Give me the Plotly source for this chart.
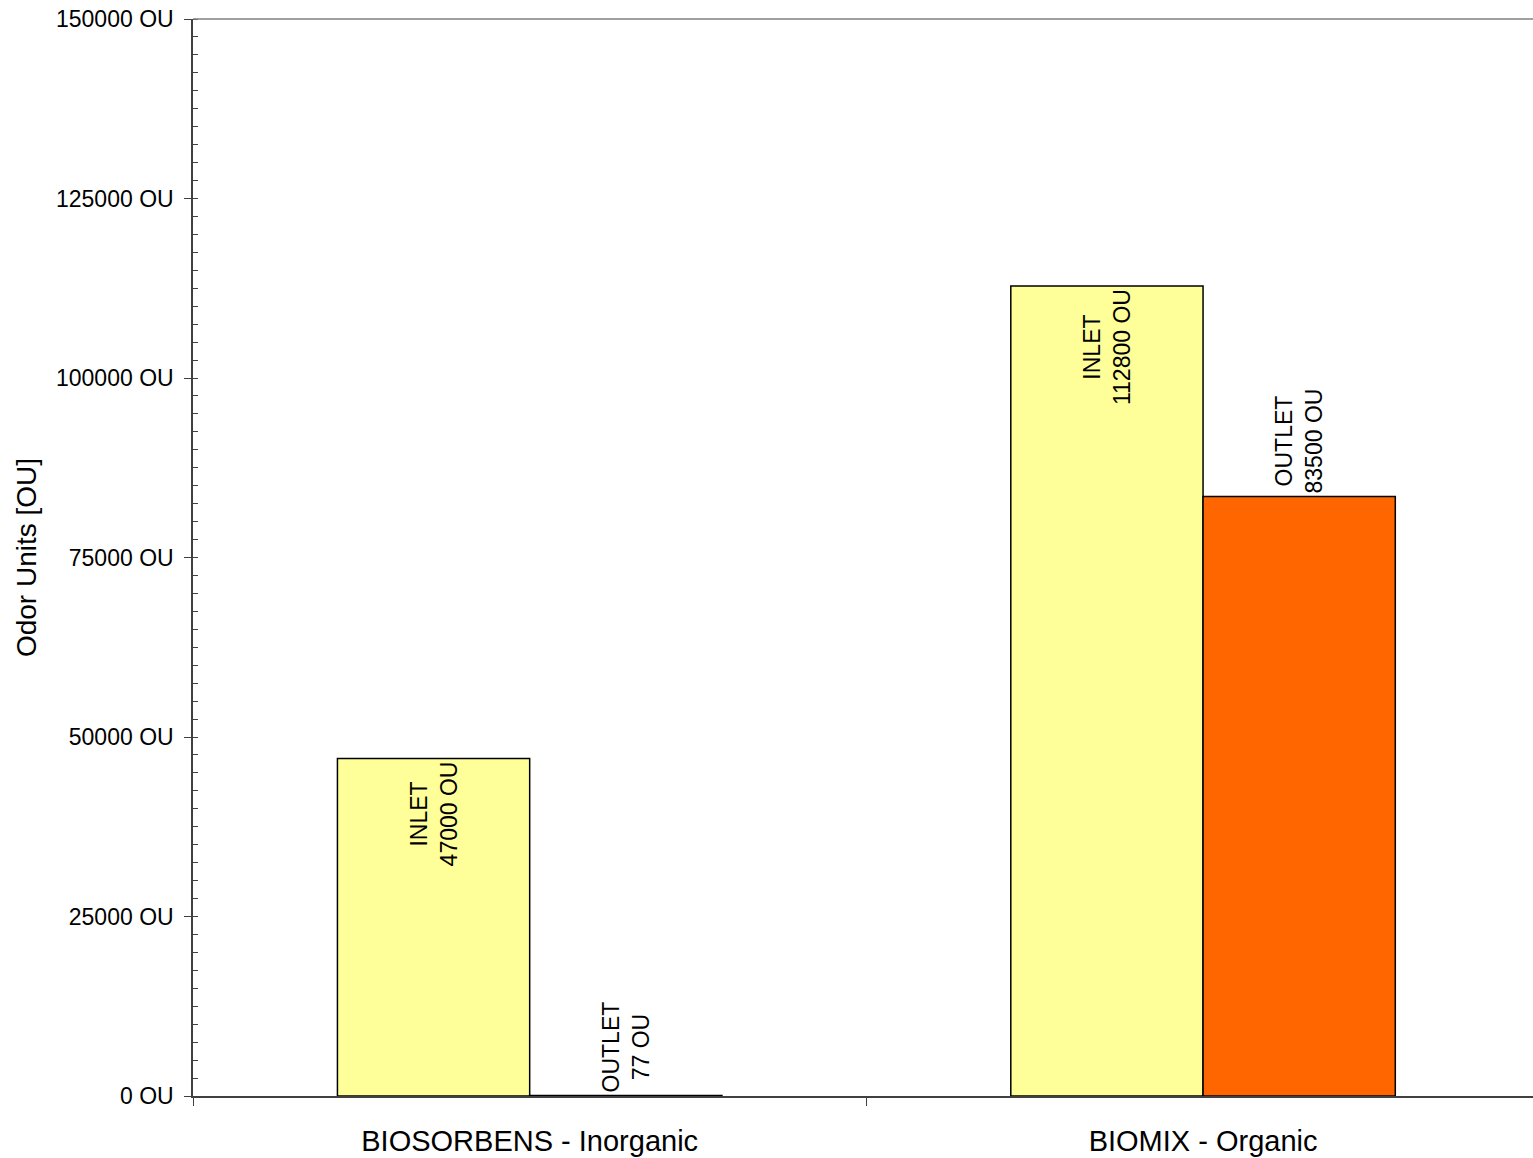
import plotly.graph_objects as go

categories = ["BIOSORBENS - Inorganic", "BIOMIX - Organic"]
inlet_values = [47000, 112800]
outlet_values = [77, 83500]
inlet_labels = ["INLET<br>47000 OU", "INLET<br>112800 OU"]
outlet_labels = ["OUTLET<br>77 OU", "OUTLET<br>83500 OU"]
y_ticks = [0, 25000, 50000, 75000, 100000, 125000, 150000]
y_tick_text = [f"{v} OU" for v in y_ticks]

FONT = "Liberation Sans, Arial, sans-serif"

fig = go.Figure()
fig.add_trace(go.Bar(
    x=categories, y=inlet_values, name="INLET",
    marker=dict(color="#FFFF99", line=dict(color="black", width=1.5)),
    text=inlet_labels, textposition="inside", insidetextanchor="end",
    textangle=-90, textfont=dict(size=23, color="black", family=FONT),
    constraintext="none",
))
fig.add_trace(go.Bar(
    x=categories, y=outlet_values, name="OUTLET",
    marker=dict(color="#FF6600", line=dict(color="black", width=1.5)),
    text=outlet_labels, textposition="outside",
    textangle=-90, textfont=dict(size=23, color="black", family=FONT),
    constraintext="none", cliponaxis=False,
))

fig.update_layout(
    width=1533, height=1158,
    margin=dict(l=193, r=0, t=19, b=62),
    paper_bgcolor="white", plot_bgcolor="white",
    barmode="group", bargap=0.429, bargroupgap=0,
    showlegend=False,
    font=dict(family=FONT, color="black"),
    shapes=[dict(type="line", xref="paper", yref="paper", x0=0, x1=1, y0=1, y1=1,
                 line=dict(color="#808080", width=1.5))],
)
fig.update_xaxes(
    range=[-0.5, 1.49],
    showline=True, linecolor="#404040", linewidth=1.5,
    ticks="outside", tickson="boundaries", ticklen=8, tickcolor="#404040",
    ticklabelstandoff=18,
    tickfont=dict(size=29, family=FONT, color="black"),
    showgrid=False, zeroline=False,
)
fig.update_yaxes(
    range=[0, 150000], tickvals=y_ticks, ticktext=y_tick_text,
    showline=True, linecolor="#404040", linewidth=1.5,
    ticks="outside", ticklen=7, tickcolor="#404040",
    ticklabelstandoff=6,
    minor=dict(ticks="inside", dtick=2500, ticklen=5, tickcolor="#404040", showgrid=False),
    tickfont=dict(size=23, family=FONT, color="black"),
    title=dict(text="Odor Units [OU]", font=dict(size=28, family=FONT, color="black"), standoff=11),
    showgrid=False, zeroline=False,
)

fig.write_html("out.html")
